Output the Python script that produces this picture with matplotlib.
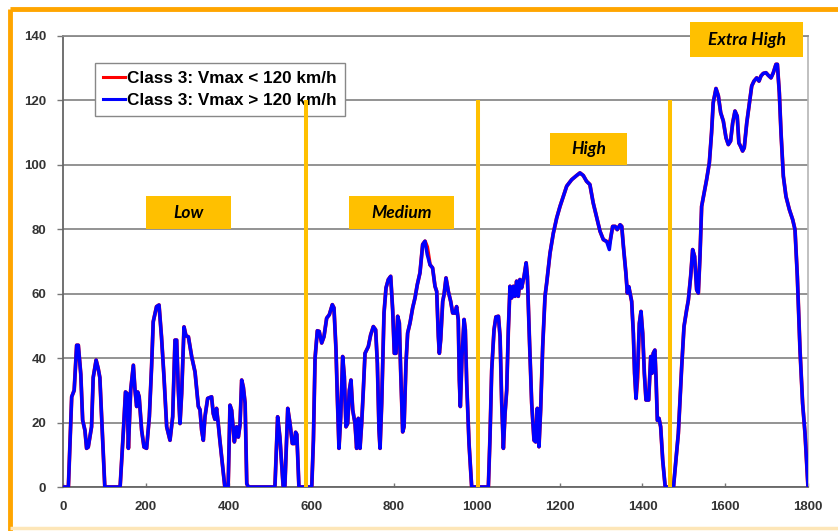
import numpy as np
import matplotlib
matplotlib.use("Agg")
import matplotlib.pyplot as plt
from matplotlib.lines import Line2D
from matplotlib.patches import Rectangle

# ---------------- data ----------------
low_t = [0, 13, 21, 27, 33, 37, 43, 47.5, 53, 57, 61, 69, 73, 80, 85, 89, 96, 101, 138, 146,
         151, 155, 158, 163.5, 170, 174, 178, 180.5, 184, 190, 195.7, 202, 208.6, 214, 218, 226,
         232, 238, 244, 250.5, 258.5, 265, 270.6, 274.6, 278.7, 282.7, 286.7, 292.4, 297, 303,
         311, 319, 327, 331, 335, 339, 343, 349.5, 359, 363, 367, 371, 375, 379, 387, 391, 399,
         403.5, 407.5, 414, 419.5, 423.6, 427.6, 431.7, 435.7, 440, 444, 448, 512, 518.6, 524,
         532, 536, 543, 548.5, 554, 559, 562, 565, 570, 589]
low_v = [0, 0, 28, 30, 44, 44, 35, 20.7, 17.6, 12, 12.4, 18.7, 34, 39.4, 36.8, 34, 14.5, 0, 0, 17.6,
         29.5, 29, 12, 30, 37.8, 30, 25, 29.5, 28, 17.6, 12.4, 12, 21.8, 37.3, 51.3, 56,
         56.5, 46.6, 34.2, 18.7, 14.5, 21.8, 45.6, 45.6, 30, 19.7, 29, 49.7, 47, 46.6,
         40.4, 35.7, 25, 24, 17.6, 14.5, 21.8, 27.5, 28, 22.8, 21, 24.4, 19.7, 14.5, 4.7, 0, 0,
         25.4, 23.8, 14, 18.7, 15.5, 19.2, 33.2, 31, 26, 1, 0, 0, 21.8, 15.5,
         0, 0, 24.4, 19.7, 13.5, 13.5, 17, 16.3, 0, 0]

medium_t = [601, 605, 609, 614.5, 619, 625, 630.6, 637, 643.5, 650.7, 654.7, 659.6, 662.8, 666.8,
            671, 675.7, 679.7, 683.7, 687.8, 691.8, 695.8, 700, 705.5, 709.5, 713.5, 717.6, 721.6,
            725.6, 729.7, 737.7, 743.3, 749.8, 755.4, 759.5, 763.5, 766, 770, 775.6, 780.4, 786,
            791.7, 796.5, 800.5, 804.6, 808.6, 812.6, 815.8, 820.7, 824, 828.7, 832.7, 838.4,
            844.8, 850.5, 856, 862.5, 869, 874.6, 880, 886.7, 893, 898.8, 902.9, 906.9, 909.3,
            912.5, 917.4, 920.6, 925.4, 931, 936.7, 941.5, 947.2, 951, 955, 957.6, 960, 964, 969,
            972, 975.4, 981, 987.4, 1022]
medium_v = [0, 14.5, 40, 48.5, 48.3, 44.7, 46.7, 52.4, 53.5, 56.6, 55.6, 42.6, 28, 12,
            21.8, 40.5, 34.3, 18.7, 19.7, 30, 33.2, 23.9, 19.7, 12, 21.3, 12, 19.7,
            30, 41.5, 43.6, 47.2, 49.8, 48.8, 38.4, 17.7, 12, 26, 54, 61.8, 64.4,
            65.4, 55, 41.5, 41.5, 53, 50.9, 36.3, 17.1, 18.7, 38.4, 47.8, 50.9,
            55.6, 58.7, 62.8, 66.5, 75.3, 76.3, 72.2, 69, 68, 62.3, 60.7, 46.7, 41.5,
            45.7, 57.6, 59.7, 64.9, 60.7, 57.6, 54, 54, 56, 51.9, 33.2, 25, 40.5, 52,
            48.8, 32.2, 13.5, 0, 0]

high_t = [1027.7, 1031.7, 1035.8, 1041.4, 1046, 1052, 1056, 1060, 1064, 1068, 1072, 1076, 1080,
          1084, 1088, 1092, 1096, 1100, 1104, 1108, 1114, 1119, 1122, 1127, 1132.4, 1138, 1142,
          1146, 1150, 1154, 1159, 1164.6, 1168.6, 1176.7, 1184.7, 1192.8, 1200.8, 1208.9, 1217,
          1229, 1241, 1249, 1257, 1265, 1273, 1281, 1289, 1297.5, 1305.5, 1313.6, 1320, 1324,
          1328, 1334, 1339, 1346, 1350, 1354, 1360, 1363.5, 1367, 1370, 1374, 1378, 1381, 1384.5,
          1388.5, 1392.5, 1396.5, 1400.6, 1404.6, 1408.6, 1415, 1420, 1423, 1426, 1430, 1433,
          1436, 1440, 1444, 1449, 1455, 1475]
high_v = [0, 15.6, 36.3, 48.8, 52.8, 53, 46.7, 26, 12, 22.8, 30, 48.8, 62.3,
          58.7, 62.3, 59.2, 63.9, 59.2, 64.4, 61.8, 65.4, 69.6, 65.4, 45.7, 26, 14.5, 14,
          24.4, 12.5, 23.9, 43.6, 59.2, 63.3, 72.6, 78.8, 83.5, 87.1, 90.2, 93.4,
          95.4, 96.7, 97.5, 96.7, 94.9, 93.9, 88.2, 84, 79.4, 76.8, 76.2, 73.7, 77.8,
          80.9, 80.9, 79.9, 81.4, 80.9, 74.7, 66.4, 60.2, 62.2, 60.2, 57.6, 47.7, 35.3, 27.5,
          37.3, 50.8, 54.5, 47.7, 35.3, 27, 27, 40.5, 35.3, 41.5, 42.5, 33.2,
          20.7, 21.3, 18.7, 8.3, 0, 0]

extra_t = [1486.7, 1494.8, 1500.4, 1506.8, 1510.9, 1516.5, 1521.3, 1526, 1531, 1535, 1539, 1543,
           1549, 1555, 1561.6, 1567, 1571, 1577.7, 1583.4, 1589, 1595.4, 1601.9, 1607.5, 1613,
           1618, 1623.6, 1629, 1633, 1637, 1642, 1646, 1652, 1658, 1664, 1669.5, 1676, 1681.6,
           1686.4, 1692, 1698.5, 1704, 1710.6, 1716.2, 1722.6, 1726, 1730.7, 1734.8, 1740.4,
           1746.8, 1755, 1763, 1768.6, 1774.2, 1780.7, 1787, 1792.8, 1796.8, 1800]
extra_v = [16.6, 37.3, 49.8, 55, 58, 65.4, 73.7, 71.6, 61.2, 60.2, 71.6, 87.1,
           91.3, 95.4, 100.6, 110, 119.3, 123.7, 121.4, 116.2, 113.6, 108.4, 106.3, 107.4,
           113, 116.7, 115.1, 106.8, 105.8, 104.3, 105.3, 113, 118.8, 124.5, 126, 127, 126,
           127.6, 128.4, 128.6, 127.8, 127, 128.6, 131.2, 131.2, 122.4, 110, 96.5,
           90.2, 86.1, 83, 79.9, 65.4, 42.5, 25.9, 16.6, 7.3, 0]

# where the Vmax < 120 km/h trace differs visibly from the other one
red_diff_t = [880, 1320, 1388.5]
red_diff_v = [74.5, 75.5, 34.0]

phase_bounds = [587, 1002, 1466]
phase_names = ["Low", "Medium", "High", "Extra High"]

series_labels = ["Class 3: Vmax < 120 km/h", "Class 3: Vmax > 120 km/h"]
x_ticks = list(range(0, 1801, 200))
y_ticks = list(range(0, 141, 20))

# ---------------- build series ----------------
t_all = np.array(low_t + medium_t + high_t + extra_t, dtype=float)
v_blue = np.array(low_v + medium_v + high_v + extra_v, dtype=float)
v_red = v_blue.copy()
for tt, vv in zip(red_diff_t, red_diff_v):
    v_red[t_all == tt] = vv

# ---------------- figure ----------------
W, H = 838, 531
fig = plt.figure(figsize=(W / 100, H / 100), dpi=100)
ax = fig.add_axes([63 / W, 1 - 487 / H, (808 - 63) / W, (487 - 36) / H])

tick_font = dict(family="Liberation Sans", weight="bold", size=9.5, color="#333333")

ax.set_xlim(0, 1800)
ax.set_ylim(0, 140)
ax.set_xticks(x_ticks)
ax.set_yticks(y_ticks)
ax.set_xticklabels([str(x) for x in x_ticks], **tick_font)
ax.set_yticklabels([str(y) for y in y_ticks], **tick_font)
ax.tick_params(axis="x", direction="in", length=3, width=1, color="#777777", pad=10)
ax.tick_params(axis="y", direction="out", length=4, width=1, color="#777777", pad=8)

ax.grid(axis="y", color="#8a8a8a", lw=1.3, zorder=1)
ax.set_axisbelow(True)
for s in ["left", "bottom"]:
    ax.spines[s].set_color("#666666")
    ax.spines[s].set_linewidth(1.3)
ax.spines["right"].set_color("#b5b5b5")
ax.spines["right"].set_linewidth(1.2)
ax.spines["top"].set_color("#8a8a8a")
ax.spines["top"].set_linewidth(1.3)

l_red, = ax.plot(t_all, v_red, color="#ff0000", lw=2.7, zorder=3, label=series_labels[0],
                 solid_joinstyle="round")
l_blue, = ax.plot(t_all, v_blue, color="#0000ff", lw=2.5, zorder=4, label=series_labels[1],
                  solid_joinstyle="round")

leg = ax.legend(handles=[l_red, l_blue], loc="upper left",
                bbox_to_anchor=(95 / W, 1 - 63 / H), bbox_transform=fig.transFigure,
                prop=dict(family="Liberation Sans", weight="bold", size=12.3),
                frameon=True, fancybox=False, framealpha=1, edgecolor="#888888",
                handlelength=1.3, handletextpad=0.15, borderpad=0.45, labelspacing=0.45,
                borderaxespad=0)
leg.get_frame().set_linewidth(1.0)
for h in leg.legend_handles:
    h.set_linewidth(2.2)
leg.set_zorder(5)

# phase boundary lines (drawn over the legend as in the reference)
ax.vlines(phase_bounds, 0, 120, color="#ffc000", lw=2.9, zorder=6)

# phase label boxes (data coordinates)
boxes = [
    (200.5, 406, 80.1, 90.3),
    (691, 945, 80.1, 90.3),
    (1176.6, 1362.7, 100.0, 109.9),
    (1515, 1788, 133.5, 144.3),
]
for name, (x0, x1, y0, y1) in zip(phase_names, boxes):
    ax.add_patch(Rectangle((x0, y0), x1 - x0, y1 - y0, facecolor="#ffc000",
                           edgecolor="none", zorder=7, clip_on=False))
    ax.text((x0 + x1) / 2, (y0 + y1) / 2, name, ha="center", va="center",
            family="Lato", weight="bold", style="italic", size=12.5, color="black",
            zorder=8, clip_on=False)

# orange outer frame
fig.add_artist(Line2D([10 / W, 1], [1 - 9 / H, 1 - 9 / H], transform=fig.transFigure,
                      color="#ffa500", lw=3.5, solid_capstyle="butt"))
fig.add_artist(Line2D([10 / W, 10 / W], [1 - 9 / H, 0], transform=fig.transFigure,
                      color="#ffa500", lw=3.5, solid_capstyle="butt"))
fig.add_artist(Line2D([10 / W, 1], [1 - 528 / H, 1 - 528 / H], transform=fig.transFigure,
                      color="#fde6b8", lw=2.5, solid_capstyle="butt"))

fig.savefig("out.png", dpi=100)
